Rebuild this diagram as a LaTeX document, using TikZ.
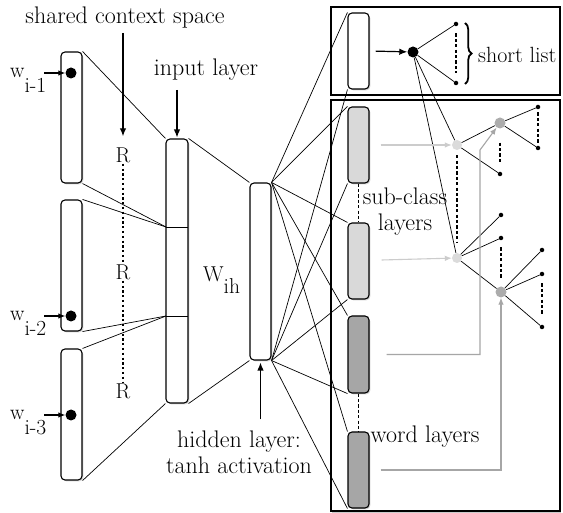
\documentclass[tikz,border=0pt]{standalone}
\usetikzlibrary{arrows.meta,shadows,calc,decorations.pathreplacing}
\begin{document}
\begin{tikzpicture}[x=1pt,y=-1pt,
  font=\fontsize{21.5}{24}\selectfont,
  txt/.style={inner sep=1pt},
  big/.style={inner sep=1pt, font=\fontsize{24}{26}\selectfont},
  layer/.style={draw, rounded corners=4pt, line width=1.1pt, minimum width=21pt, inner sep=0pt, fill=white,
    drop shadow={shadow xshift=1.3pt, shadow yshift=-1.3pt, opacity=0.35}},
  panel/.style={draw, line width=2pt, inner sep=0pt, fill=white,
    drop shadow={shadow xshift=1.2pt, shadow yshift=-1.5pt, opacity=0.4}},
  conn/.style={line width=0.7pt},
  arr/.style={line width=1.2pt, -{Latex[length=8pt,width=6.5pt]}},
  sarr/.style={line width=1.1pt, -{Latex[length=7pt,width=5.5pt]}},
  lightarr/.style={line width=1.1pt, color=gray!40, -{Latex[length=7pt,width=5.5pt]}},
  grayarr/.style={line width=1.1pt, color=gray!70, -{Latex[length=7pt,width=5.5pt]}},
  bigdot/.style={circle, fill=black, inner sep=0pt, minimum size=11pt},
  smalldot/.style={circle, fill=black, inner sep=0pt, minimum size=4.5pt},
  subnode/.style={circle, fill=gray!28, inner sep=0pt, minimum size=10pt},
  midnode/.style={circle, fill=gray!65, inner sep=0pt, minimum size=11pt},
  dotline/.style={line width=1.6pt, dash pattern=on 2.2pt off 2.6pt},
  dashline/.style={line width=1.2pt, dash pattern=on 3.2pt off 2.2pt},
  bracestyle/.style={decorate, decoration={brace, amplitude=6.5pt}, line width=1.8pt}
]
\useasboundingbox (0,0) rectangle (563,513);

% panels
\node[panel, minimum width=229pt, minimum height=88pt] (toppanel) at (445.5,51) {};
\node[panel, minimum width=229pt, minimum height=411pt] (botpanel) at (445.5,305.5) {};

% context boxes
\node[layer, minimum height=131pt] (c1) at (71.5,117.5) {};
\node[layer, minimum height=131pt] (c2) at (71.5,265.5) {};
\node[layer, minimum height=131pt] (c3) at (71.5,414.5) {};

% input and hidden layers
\node[layer, minimum width=22pt, minimum height=264pt] (input) at (177,271) {};
\coordinate (d1w) at (166,227); \coordinate (d1e) at (188,227);
\coordinate (d2w) at (166,316); \coordinate (d2e) at (188,316);
\draw[line width=0.9pt] (d1w) -- (d1e);
\draw[line width=0.9pt] (d2w) -- (d2e);
\node[layer, minimum height=177pt] (hidden) at (260.5,271.5) {};

% output layers
\node[layer, minimum height=76pt] (short) at (358.5,51) {};
\node[layer, minimum height=76pt, fill=gray!30] (sc1) at (358.5,145) {};
\node[layer, minimum height=76pt, fill=gray!30] (sc2) at (358.5,261) {};
\node[layer, minimum height=77pt, fill=gray!70] (wd1) at (358.5,354.5) {};
\node[layer, minimum height=76pt, fill=gray!70] (wd2) at (358.5,470) {};
\draw[dashline] (sc1.south) -- (sc2.north);
\draw[dashline] (wd1.south) -- (wd2.north);

% context -> input
\draw[conn] (c1.north east) -- (input.north west);
\draw[conn] (c1.south east) -- (d1w);
\draw[conn] (c2.north east) -- (d1w);
\draw[conn] (c2.south east) -- (d2w);
\draw[conn] (c3.north east) -- (d2w);
\draw[conn] (c3.south east) -- (input.south west);
% input -> hidden
\draw[conn] (input.north east) -- (hidden.north west);
\draw[conn] (input.south east) -- (hidden.south west);
% hidden -> outputs
\foreach \o in {short,sc1,sc2,wd1,wd2}{
  \draw[conn] (hidden.north east) -- (\o.north west);
  \draw[conn] (hidden.south east) -- (\o.south west);
}

% word dots and labels
\node[bigdot] (p1) at (71,73) {};
\node[bigdot] (p2) at (71,316) {};
\node[bigdot] (p3) at (71,415) {};
\node[txt, anchor=base west] (w1) at (9,78) {w\raisebox{-14.5pt}{i-1}};
\node[txt, anchor=base west] (w2) at (9,321) {w\raisebox{-14.5pt}{i-2}};
\node[txt, anchor=base west] (w3) at (9,420) {w\raisebox{-14.5pt}{i-3}};
\draw[sarr] ($(p1)+(-27,0)$) -- (p1);
\draw[sarr] ($(p2)+(-27,0)$) -- (p2);
\draw[sarr] ($(p3)+(-27,0)$) -- (p3);

% shared context
\node[big] (shared) at (125,18) {shared context space};
\node[txt] (R1) at (123,155) {R};
\node[txt] (R2) at (123,272) {R};
\node[txt] (R3) at (123,391) {R};
\draw[arr, shorten <=3pt, shorten >=10pt] (shared.south -| R1) -- (R1.north);
\draw[dotline] (R1.south) -- (R2.north);
\draw[dotline] (R2.south) -- (R3.north);

% input label
\node[big] (inlabel) at (206,70) {input layer};
\draw[arr, shorten <=8pt, shorten >=1pt] (inlabel.south -| input) -- (input.north);

% W_ih
\node[txt, anchor=base west] (wih) at (202,282) {W\raisebox{-11.5pt}{ih}};

% hidden label
\node[big, align=center] (hlabel) at (239,452) {hidden layer:\\tanh activation};
\draw[arr, shorten <=10pt, shorten >=2pt] (hlabel.north -| hidden) -- (hidden.south);

% short list
\node[bigdot] (B) at (413,52) {};
\node[smalldot] (t1) at (456,24) {};
\node[smalldot] (t2) at (456,83) {};
\draw[arr, shorten <=6pt] (short.east) -- (B);
\draw[conn] (B) -- (t1);
\draw[conn] (B) -- (t2);
\draw[dashline, shorten <=7pt, shorten >=8pt] (t1) -- (t2);
\coordinate (br1) at (465,23);
\coordinate (br2) at (465,84);
\draw[bracestyle] (br1) -- (br2);
\node[txt, anchor=west, font=\fontsize{22}{24}\selectfont] (sltext) at (477,55) {short list};

% sub-class tree
\node[subnode] (S1) at (457,145) {};
\node[subnode] (S2) at (457,258) {};
\node[midnode] (M1) at (500,123) {};
\node[midnode] (M2) at (501,292) {};
\node[smalldot] (a1) at (500,174) {};
\node[smalldot] (m1a) at (538,107) {};
\node[smalldot] (m1b) at (538,148) {};
\node[smalldot] (s2a) at (501,215) {};
\node[smalldot] (s2b) at (501,238) {};
\node[smalldot] (m2a) at (542,250) {};
\node[smalldot] (m2b) at (542,274) {};
\node[smalldot] (m2c) at (542,327) {};

\draw[conn] (B) -- (S1);
\draw[conn] (B) -- (S2);
\draw[conn] (S1) -- (M1);
\draw[conn] (S1) -- (a1);
\draw[conn] (M1) -- (m1a);
\draw[conn] (M1) -- (m1b);
\draw[conn] (S2) -- (s2a);
\draw[conn] (S2) -- (s2b);
\draw[conn] (S2) -- (M2);
\draw[conn] (M2) -- (m2a);
\draw[conn] (M2) -- (m2b);
\draw[conn] (M2) -- (m2c);

\draw[dashline, shorten <=5pt, shorten >=10pt] (S1) -- (S2);
\draw[dashline, shorten <=14pt, shorten >=10pt] (M1) -- (a1);
\draw[dashline, shorten <=3pt, shorten >=3pt] (m1a) -- (m1b);
\draw[dashline, shorten <=7pt, shorten >=8pt] (s2b) -- (M2);
\draw[dashline, shorten <=7pt, shorten >=10pt] (m2b) -- (m2c);

% gray arrows
\draw[lightarr] ($(sc1.east)+(11,0)$) -- (S1);
\draw[lightarr] ($(sc2.east)+(12,-1)$) -- (S2);
\draw[grayarr] ($(wd1.east)+(17,0)$) -| ($(M1)+(-20,27)$) -- (M1);
\draw[grayarr] ($(wd2.east)+(11,0)$) -| (M2);

% layer texts
\node[big, align=center] (sclabel) at (405,212) {sub-class\\layers};
\node[big] (wdlabel) at (425,437) {word layers};
\end{tikzpicture}
\end{document}
